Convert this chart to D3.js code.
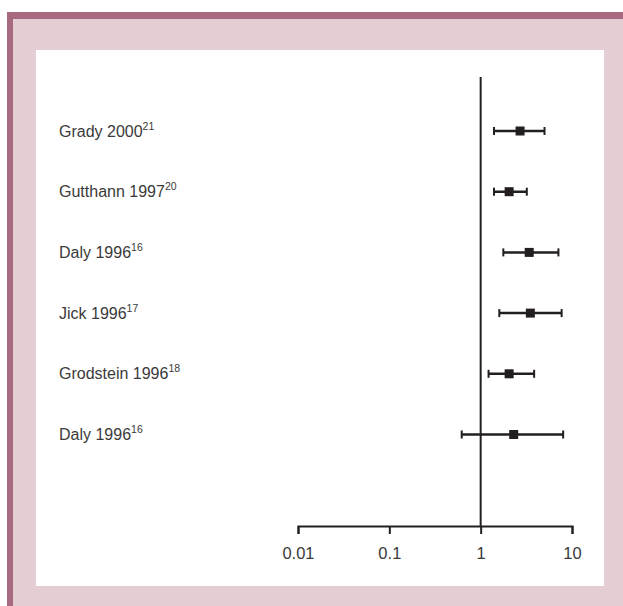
<!DOCTYPE html>
<html>
<head>
<meta charset="utf-8">
<script src="https://cdn.jsdelivr.net/npm/d3@7"></script>
<style>
  body { margin: 0; background: #fff; }
  svg { display: block; }
</style>
</head>
<body>
<div id="chart"></div>
<script>
// study names, reference superscripts, and relative risks with 95% CI
let studies = ["Grady 2000", "Gutthann 1997", "Daly 1996", "Jick 1996", "Grodstein 1996", "Daly 1996"];
let refs = ["21", "20", "16", "17", "18", "16"];
let estimate = [2.7, 2.05, 3.4, 3.5, 2.05, 2.3];
let lower = [1.4, 1.4, 1.77, 1.6, 1.22, 0.62];
let upper = [5.0, 3.2, 7.1, 7.7, 3.85, 8.0];
let tickValues = [0.01, 0.1, 1, 10];
let tickLabels = ["0.01", "0.1", "1", "10"];

let width = 623, height = 606;
let ink = "#231f20", textCol = "#3a3a3a";
let font = "'Liberation Sans', Arial, sans-serif";

let svg = d3.select("#chart")
    .append("svg")
    .attr("width", width)
    .attr("height", height);

// frame: dark mauve edge, pink panel, white plotting card
svg.append("rect").attr("x", 7).attr("y", 12).attr("width", width - 7).attr("height", height - 12).attr("fill", "#a86a80");
svg.append("rect").attr("x", 13).attr("y", 19).attr("width", width - 13).attr("height", height - 19).attr("fill", "#e4cdd3");
svg.append("rect").attr("x", 36).attr("y", 50).attr("width", 568).attr("height", 536).attr("fill", "#ffffff");

let xScale = d3.scaleLog()
    .domain([0.01, 10])
    .range([298, 572]);

let yScale = d3.scalePoint()
    .domain(d3.range(studies.length))
    .range([131, 434.5]);

let axisY = 526;

let xAxis = d3.axisBottom(xScale)
    .tickValues(tickValues)
    .tickFormat((d, i) => tickLabels[i])
    .tickSizeOuter(0)
    .tickSize(8);

let gx = svg.append("g")
    .attr("transform", "translate(0," + axisY + ")")
    .call(xAxis);
gx.select(".domain").attr("stroke", ink).attr("stroke-width", 2);
gx.selectAll(".tick line").attr("stroke", ink).attr("stroke-width", 2);
gx.selectAll(".tick text")
    .attr("y", 33)
    .attr("dy", 0)
    .attr("fill", textCol)
    .attr("font-family", font)
    .attr("font-size", "16.5px");

// line of no effect
svg.append("line")
    .attr("x1", xScale(1)).attr("x2", xScale(1))
    .attr("y1", 77).attr("y2", axisY)
    .attr("stroke", ink)
    .attr("stroke-width", 2);

let rows = svg.selectAll(".row")
    .data(studies)
    .enter()
    .append("g")
    .attr("class", "row")
    .attr("transform", (d, i) => "translate(0," + yScale(i) + ")");

rows.append("line")
    .attr("x1", (d, i) => xScale(lower[i]))
    .attr("x2", (d, i) => xScale(upper[i]))
    .attr("stroke", ink)
    .attr("stroke-width", 2.5);

rows.append("line")
    .attr("x1", (d, i) => xScale(lower[i])).attr("x2", (d, i) => xScale(lower[i]))
    .attr("y1", -4).attr("y2", 4)
    .attr("stroke", ink).attr("stroke-width", 2);

rows.append("line")
    .attr("x1", (d, i) => xScale(upper[i])).attr("x2", (d, i) => xScale(upper[i]))
    .attr("y1", -4).attr("y2", 4)
    .attr("stroke", ink).attr("stroke-width", 2);

rows.append("rect")
    .attr("x", (d, i) => xScale(estimate[i]) - 4.5)
    .attr("y", -4.5)
    .attr("width", 9)
    .attr("height", 9)
    .attr("fill", ink);

let labels = rows.append("text")
    .attr("x", 59)
    .attr("y", 5.5)
    .attr("fill", textCol)
    .attr("font-family", font)
    .attr("font-size", "16px");

labels.append("tspan").text(d => d);
labels.append("tspan")
    .text((d, i) => refs[i])
    .attr("font-size", "10.5px")
    .attr("dy", -7);
</script>
</body>
</html>
